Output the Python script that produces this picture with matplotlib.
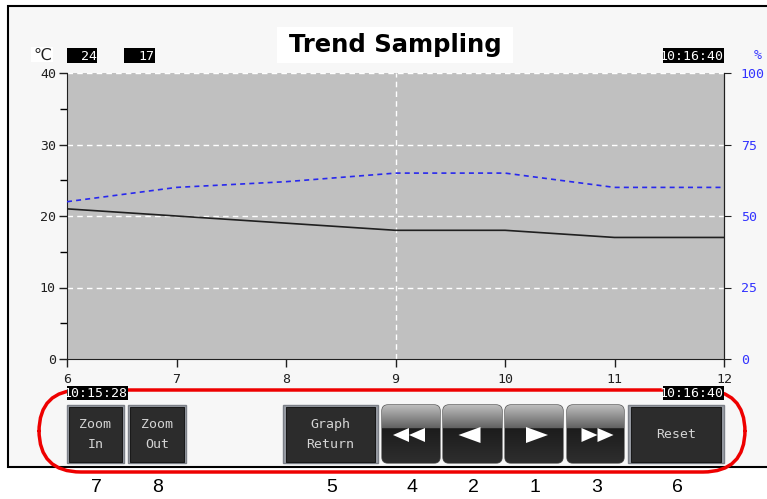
import numpy as np
import matplotlib.pyplot as plt
from matplotlib.patches import Rectangle, FancyBboxPatch, Polygon

# data
x_samples = [6, 7, 8, 9, 10, 11, 12]
temp_c = [21, 20, 19, 18, 18, 17, 17]
humidity_pct = [55, 60, 62, 65, 65, 60, 60]

temp_ticks = [0, 10, 20, 30, 40]
temp_minor = [5, 15, 25, 35]
pct_ticks = [0, 25, 50, 75, 100]
current_values = ['24', '17']
start_time = '10:15:28'
end_time = '10:16:40'
button_labels = ['Zoom\nIn', 'Zoom\nOut', 'Graph\nReturn', '<<', '<', '>', '>>', 'Reset']
callouts = ['7', '8', '5', '4', '2', '1', '3', '6']

W, H = 767, 499
MONO = 'DejaVu Sans Mono'

fig = plt.figure(figsize=(W / 100, H / 100), dpi=100)
fig.patch.set_facecolor('white')

# background panel of the HMI screen
bg = fig.add_axes([0, 0, 1, 1], zorder=0)
bg.set_xlim(0, W)
bg.set_ylim(H, 0)
bg.axis('off')
bg.add_patch(Rectangle((8, 6), 800, 461, facecolor='#f7f7f7', edgecolor='black', lw=1.5))

# trend graph
ax = fig.add_axes([67 / W, (H - 359) / H, 657 / W, 286 / H])
ax.set_zorder(1)
ax.set_facecolor('#c0c0c0')
ax.set_xlim(6, 12)
ax.set_ylim(0, 40)
for y in temp_ticks[1:]:
    ax.axhline(y, color='white', lw=1, dashes=(4, 3), zorder=1, clip_on=False)
ax.axvline(9, color='white', lw=1, dashes=(4, 3), zorder=1)
ax.plot(x_samples, temp_c, color='#202020', lw=1.2, zorder=3)
ax.set_xticks(x_samples)
ax.set_yticks(temp_ticks)
ax.set_yticks(temp_minor, minor=True)
ax.tick_params(axis='both', labelsize=9.5, length=6, width=1, pad=2, colors='#202020')
ax.tick_params(axis='y', which='minor', length=5, width=1)
ax.tick_params(axis='x', pad=4)
for lab in ax.get_xticklabels() + ax.get_yticklabels():
    lab.set_family(MONO)
ax.spines['top'].set_visible(False)
for s in ['left', 'bottom', 'right']:
    ax.spines[s].set_color('#202020')

ax2 = ax.twinx()
ax2.set_zorder(1.5)
ax2.set_ylim(0, 100)
ax2.set_yticks(pct_ticks)
ax2.plot(x_samples, humidity_pct, color='#2828ee', lw=1.2, dashes=(3, 2.5))
ax2.tick_params(axis='y', labelsize=9.5, length=5, pad=7, labelcolor='#3333ff', color='#202020')
for lab in ax2.get_yticklabels():
    lab.set_family(MONO)
for s in ['top', 'left', 'bottom']:
    ax2.spines[s].set_visible(False)
ax2.spines['right'].set_color('#202020')

# overlay in pixel coordinates for the screen widgets
ov = fig.add_axes([0, 0, 1, 1], zorder=3)
ov.set_facecolor('none')
ov.axis('off')

# title
ov.add_patch(Rectangle((277, 27), 236, 36, facecolor='white', edgecolor='none'))
ov.text(395, 45, 'Trend Sampling', ha='center', va='center', fontsize=17.5,
        fontweight='bold', family='DejaVu Sans', color='black')

# unit labels and value boxes
ov.add_patch(Rectangle((31, 47), 22, 15, facecolor='white', edgecolor='none'))
ov.text(42, 55, '℃', ha='center', va='center', fontsize=11.5, family='DejaVu Sans', color='#202020')
ov.text(758, 55, '%', ha='center', va='center', fontsize=9.5, family=MONO, color='#3333ff')


def value_box(x0, x1, y0, y1, txt):
    ov.add_patch(Rectangle((x0, y0), x1 - x0, y1 - y0, facecolor='black', edgecolor='none'))
    ov.text(x1 - 0.5, (y0 + y1) / 2 + 0.5, txt, ha='right', va='center', fontsize=9.5,
            family=MONO, color='white')


value_box(67, 97, 48, 63, current_values[0])
value_box(124, 155, 48, 63, current_values[1])
value_box(663, 724, 48, 63, end_time)

# red callout outline
ov.add_patch(FancyBboxPatch((39, 390), 706, 82, boxstyle='round,pad=0,rounding_size=42',
                            facecolor='none', edgecolor='#ee0000', lw=2.5))

value_box(67, 128, 386, 400, start_time)
value_box(663, 724, 386, 400, end_time)

# buttons
btn_x = [(67, 124), (128, 186), (283, 378), (382, 440), (443, 502), (505, 563), (567, 624), (628, 724)]
by0, by1 = 405, 463

gloss = np.zeros((100, 1, 3))
for i in range(100):
    t = i / 99
    if t < 0.4:
        v = 0.74 - 0.36 * t / 0.4
    else:
        v = 0.11 + 0.07 * (t - 0.4) / 0.6
    gloss[i, 0, :] = v

for (x0, x1), lab in zip(btn_x, button_labels):
    cx = (x0 + x1) / 2
    if lab in ('<<', '<', '>', '>>'):
        p = FancyBboxPatch((x0, by0), x1 - x0, by1 - by0, boxstyle='round,pad=0,rounding_size=6',
                           facecolor='#1c1c1c', edgecolor='#5a5a5a', lw=1)
        ov.add_patch(p)
        im = ov.imshow(gloss, extent=(x0, x1, by1, by0), aspect='auto', zorder=2)
        im.set_clip_path(p)
        cy = 435
        if lab == '<':
            tris = [[(cx - 14, cy), (cx + 8, cy - 8), (cx + 8, cy + 8)]]
        elif lab == '>':
            tris = [[(cx + 14, cy), (cx - 8, cy - 8), (cx - 8, cy + 8)]]
        elif lab == '<<':
            tris = [[(cx - 18, cy), (cx - 2, cy - 7), (cx - 2, cy + 7)],
                    [(cx - 2, cy), (cx + 14, cy - 7), (cx + 14, cy + 7)]]
        else:
            tris = [[(cx + 18, cy), (cx + 2, cy - 7), (cx + 2, cy + 7)],
                    [(cx + 2, cy), (cx - 14, cy - 7), (cx - 14, cy + 7)]]
        for t in tris:
            ov.add_patch(Polygon(t, closed=True, facecolor='white', edgecolor='none', zorder=3))
    else:
        ov.add_patch(Rectangle((x0, by0), x1 - x0, by1 - by0, facecolor='#9ca0a8',
                               edgecolor='#7c8088', lw=1))
        inset = 3 if x1 - x0 > 70 else 2
        ov.add_patch(Rectangle((x0 + inset, by0 + 1.5), x1 - x0 - 2 * inset, by1 - by0 - 3,
                               facecolor='#2c2c2c', edgecolor='#1a1a1a', lw=0.8))
        ov.text(cx, 434.5, lab, ha='center', va='center', fontsize=9.5, family=MONO,
                color='#d4d4d4', linespacing=1.75)

# callout numbers
for (x0, x1), num in zip(btn_x, callouts):
    ov.text((x0 + x1) / 2 + 1, 488, num, ha='center', va='center', fontsize=14,
            family='Liberation Sans', color='black')

ov.set_xlim(0, W)
ov.set_ylim(H, 0)

fig.savefig('out.png', dpi=100)
